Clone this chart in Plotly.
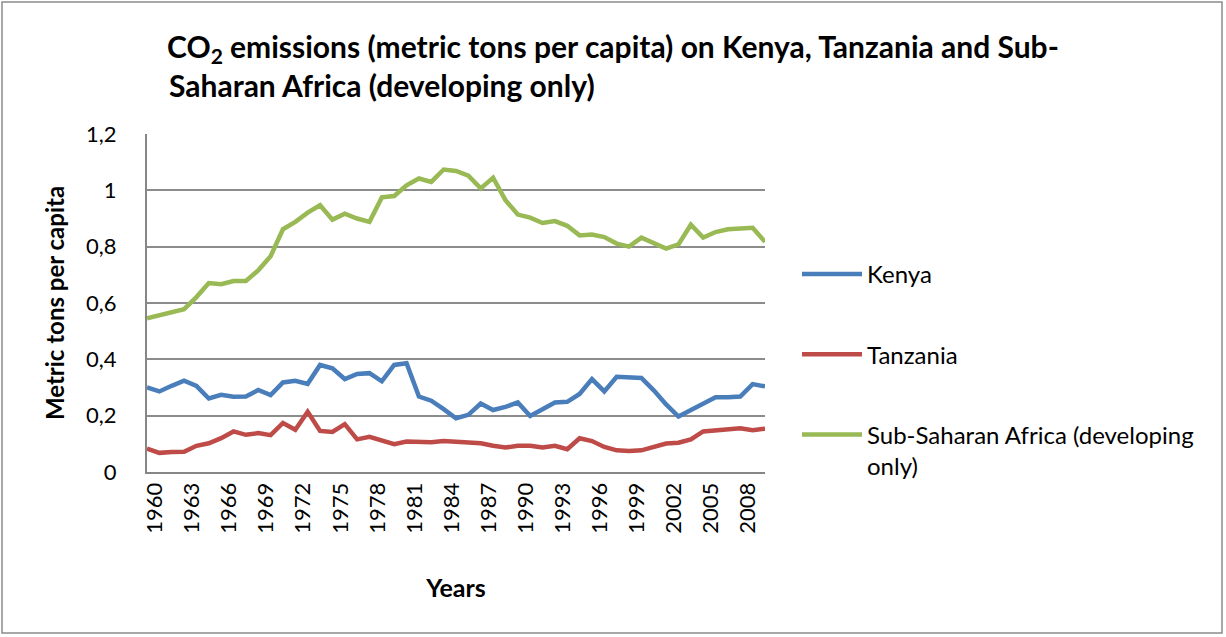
import plotly.graph_objects as go

years = [str(y) for y in range(1960, 2011)]

kenya = [0.300, 0.286, 0.306, 0.324, 0.306, 0.261, 0.274, 0.267, 0.268, 0.291,
         0.273, 0.318, 0.324, 0.313, 0.380, 0.368, 0.330, 0.348, 0.351, 0.322,
         0.380, 0.386, 0.268, 0.253, 0.223, 0.191, 0.203, 0.243, 0.220, 0.231,
         0.247, 0.199, 0.223, 0.247, 0.249, 0.277, 0.330, 0.286, 0.338, 0.334,
         0.334, 0.290, 0.240, 0.197, 0.220, 0.241, 0.265, 0.265, 0.268, 0.312,
         0.304]

tanzania = [0.083, 0.068, 0.071, 0.072, 0.093, 0.102, 0.120, 0.144, 0.132, 0.138,
            0.131, 0.174, 0.150, 0.214, 0.146, 0.142, 0.170, 0.116, 0.125, 0.110,
            0.099, 0.108, 0.107, 0.106, 0.110, 0.107, 0.101, 0.102, 0.093, 0.087,
            0.093, 0.093, 0.087, 0.093, 0.081, 0.120, 0.110, 0.089, 0.077, 0.075,
            0.077, 0.089, 0.101, 0.104, 0.116, 0.144, 0.148, 0.150, 0.155, 0.148,
            0.154]

ssa = [0.546, 0.558, 0.566, 0.578, 0.621, 0.671, 0.667, 0.678, 0.678, 0.716,
       0.766, 0.862, 0.888, 0.921, 0.947, 0.896, 0.917, 0.900, 0.888, 0.975,
       0.980, 1.018, 1.042, 1.030, 1.074, 1.069, 1.052, 1.007, 1.045, 0.965,
       0.914, 0.903, 0.884, 0.891, 0.874, 0.840, 0.843, 0.834, 0.811, 0.800,
       0.832, 0.811, 0.793, 0.808, 0.878, 0.832, 0.852, 0.862, 0.864, 0.867,
       0.817]

series_names = ["Kenya", "Tanzania", "Sub-Saharan Africa (developing<br>only)"]
series_values = [kenya, tanzania, ssa]
series_colors = ["#4A7EBB", "#BE4B48", "#98B954"]

tick_years = years[::3]

FONT = "Lato"

fig = go.Figure()
for i, (name, vals, col) in enumerate(zip(series_names, series_values, series_colors)):
    fig.add_trace(go.Scatter(
        x=years, y=vals, name=name, mode="lines",
        line=dict(color=col, width=4.5),
        legendgroup=f"g{i}",
    ))

W, H = 1226, 637
L, R, T, B = 147, 765, 134, 472
pw, ph = R - L, B - T

fig.update_layout(
    width=W, height=H,
    margin=dict(l=L, r=W - R, t=T, b=H - B),
    paper_bgcolor="white", plot_bgcolor="white",
    separators=", ",
    font=dict(family=FONT, size=22, color="black"),
    title=dict(
        text="<b>CO<sub>2</sub> emissions (metric tons per capita) on Kenya, Tanzania and Sub-</b>",
        x=(167 - L) / pw, xref="paper", xanchor="left",
        y=1 - 47 / H, yref="container", yanchor="middle",
        font=dict(family=FONT, size=30, color="black"),
    ),
    showlegend=True,
    legend=dict(
        x=(797 - L) / pw, xanchor="left",
        y=(B - 252) / ph, yanchor="top",
        font=dict(family=FONT, size=24, color="black"),
        tracegroupgap=46,
        valign="top",
        itemwidth=60,
        bgcolor="rgba(0,0,0,0)",
    ),
    xaxis=dict(
        type="category",
        tickmode="array", tickvals=tick_years, ticktext=tick_years,
        tickangle=-90,
        showgrid=False,
        showline=True, linecolor="#868686", linewidth=2,
        ticks="", ticklabelstandoff=0, ticklabelshift=8,
        tickfont=dict(family=FONT, size=22),
        title=dict(text="<b>Years</b>", font=dict(family=FONT, size=25), standoff=47),
    ),
    yaxis=dict(
        range=[0, 1.2], dtick=0.2, tick0=0,
        showgrid=True, gridcolor="#8C8C8C", gridwidth=1.5,
        showline=True, linecolor="#868686", linewidth=2,
        zeroline=False,
        ticks="", ticklabelstandoff=24,
        tickfont=dict(family=FONT, size=22),
        title=dict(text="<b>Metric tons per capita</b>", font=dict(family=FONT, size=24), standoff=15),
    ),
)

fig.add_annotation(
    text="<b>Saharan Africa (developing only)</b>",
    xref="paper", yref="paper",
    x=(167 - L) / pw, y=(B - 85) / ph,
    xanchor="left", yanchor="middle", showarrow=False,
    font=dict(family=FONT, size=30, color="black"),
)

fig.add_shape(
    type="rect", xref="paper", yref="paper",
    x0=(2 - L) / pw, x1=(1222 - L) / pw,
    y0=(B - 633) / ph, y1=(B - 2) / ph,
    line=dict(color="#8C8C8C", width=1.5), fillcolor="rgba(0,0,0,0)",
    layer="below",
)

fig.write_html("out.html", config={"displayModeBar": False},
               post_script="document.body.style.margin='0px';")
